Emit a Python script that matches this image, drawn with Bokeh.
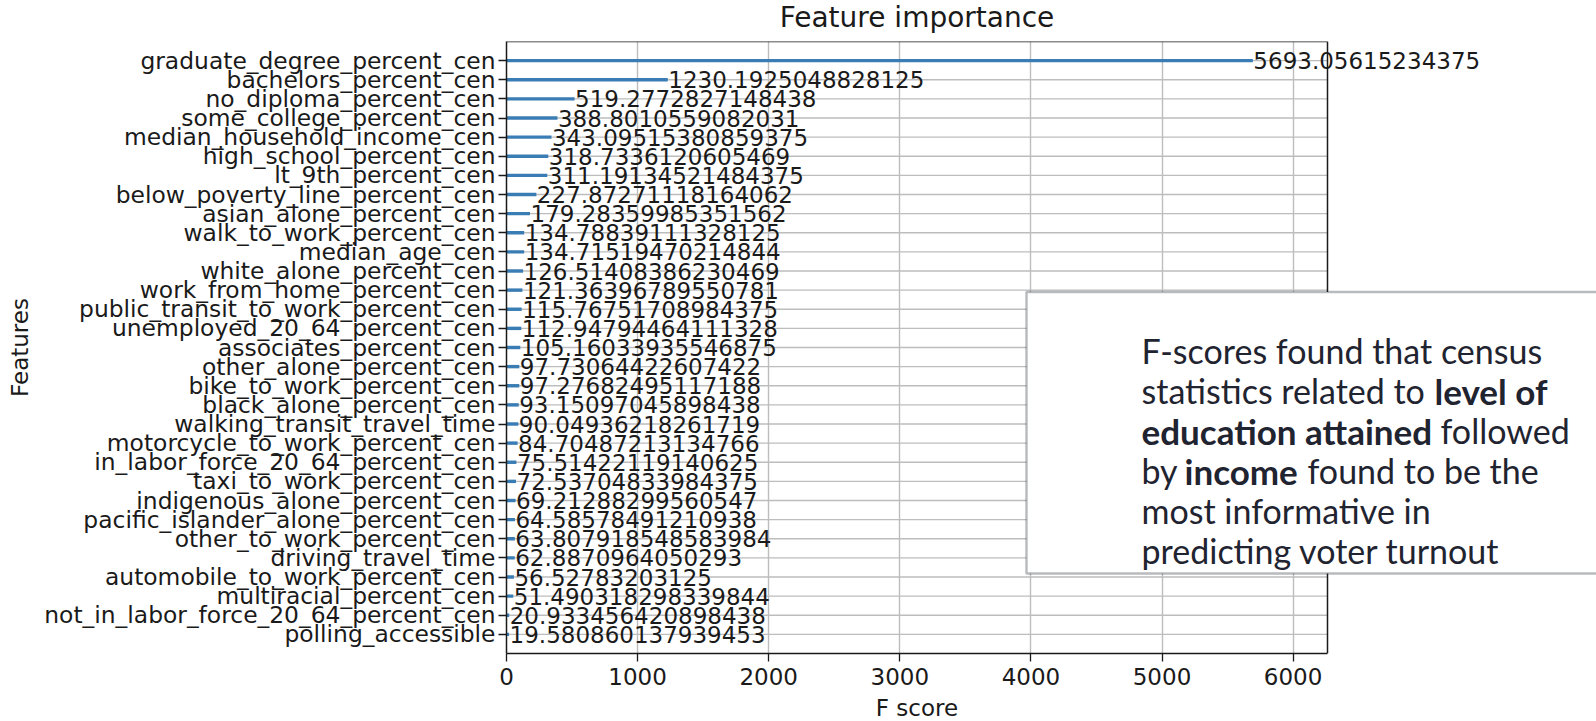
from bokeh.plotting import figure
from bokeh.layouts import column
from bokeh.models import (FixedTicker, Range1d, ColumnDataSource, LabelSet, Label,
                          BoxAnnotation)
from bokeh.core.properties import value
from bokeh.embed import file_html
from bokeh.resources import INLINE

# ---------------- data (top to bottom as in the chart) ----------------
features = [
    "graduate_degree_percent_cen", "bachelors_percent_cen", "no_diploma_percent_cen",
    "some_college_percent_cen", "median_household_income_cen", "high_school_percent_cen",
    "lt_9th_percent_cen", "below_poverty_line_percent_cen", "asian_alone_percent_cen",
    "walk_to_work_percent_cen", "median_age_cen", "white_alone_percent_cen",
    "work_from_home_percent_cen", "public_transit_to_work_percent_cen",
    "unemployed_20_64_percent_cen", "associates_percent_cen", "other_alone_percent_cen",
    "bike_to_work_percent_cen", "black_alone_percent_cen", "walking_transit_travel_time",
    "motorcycle_to_work_percent_cen", "in_labor_force_20_64_percent_cen",
    "taxi_to_work_percent_cen", "indigenous_alone_percent_cen",
    "pacific_islander_alone_percent_cen", "other_to_work_percent_cen",
    "driving_travel_time", "automobile_to_work_percent_cen", "multiracial_percent_cen",
    "not_in_labor_force_20_64_percent_cen", "polling_accessible",
]
fscores = [
    5693.05615234375, 1230.1925048828125, 519.2772827148438, 388.8010559082031,
    343.09515380859375, 318.7336120605469, 311.19134521484375, 227.87271118164062,
    179.28359985351562, 134.78839111328125, 134.71519470214844, 126.51408386230469,
    121.36396789550781, 115.76751708984375, 112.94794464111328, 105.16033935546875,
    97.73064422607422, 97.27682495117188, 93.15097045898438, 90.04936218261719,
    84.70487213134766, 75.51422119140625, 72.53704833984375, 69.21288299560547,
    64.58578491210938, 63.807918548583984, 62.8870964050293, 56.52783203125,
    51.490318298339844, 20.933456420898438, 19.580860137939453,
]
x_ticks = [0, 1000, 2000, 3000, 4000, 5000, 6000]
title_text = "Feature importance"
x_title = "F score"
y_title = "Features"

# annotation text: (line index, segment, bold?, left edge in page px)
note_segments = [
    (0, "F-scores found that census", False, 1141),
    (1, "statistics related to", False, 1141),
    (1, "level of", True, 1434),
    (2, "education attained", True, 1141),
    (2, "followed", False, 1440),
    (3, "by", False, 1141),
    (3, "income", True, 1184),
    (3, "found to be the", False, 1307),
    (4, "most informative in", False, 1141),
    (5, "predicting voter turnout", False, 1141),
]

# ---------------- layout constants (page pixels) ----------------
n = len(features)
ypos = [n - 1 - i for i in range(n)]
score_text = [repr(v) for v in fscores]
X_END = max(fscores) * 1.1

W = 1596
ML = 506            # left border (y axis)
PLOT_W = 821        # width of the visible axes box
PLOT_H = 612        # height of the visible axes box
TOP_H = 41          # strip holding the title
MB = 42             # x-axis tick labels
BOT_H = 720 - TOP_H - PLOT_H - MB   # strip holding the x title
FONT = "DejaVu Sans"
INK = "#1a1a1a"
GRID = "#bdbdbd"
NOTE_INK = "#1f2430"

X_RIGHT = X_END * (W - ML) / PLOT_W
x_range = Range1d(0, X_RIGHT)

FRAME_LEFT = ML
FRAME_TOP = TOP_H
FRAME_BOTTOM = FRAME_TOP + PLOT_H
BOT_TOP = FRAME_BOTTOM + MB

def px_x(px):
    return (px - FRAME_LEFT) / PLOT_W * X_END

def px_y(py):
    return -1 + (FRAME_BOTTOM - py) / PLOT_H * (n + 1)

def strip(height):
    f = figure(width=W, height=height, x_range=x_range, y_range=Range1d(0, height),
               x_axis_type=None, y_axis_type=None, output_backend="svg",
               toolbar_location=None, min_border_left=ML, min_border_right=0,
               min_border_top=0, min_border_bottom=0)
    f.outline_line_color = None
    f.background_fill_color = "white"
    f.border_fill_color = "white"
    return f

# ---------------- title strip ----------------
top = strip(TOP_H)
top.add_layout(Label(x=X_END / 2, y=TOP_H - 16.8, text=title_text,
                     text_align="center", text_baseline="middle", text_font=FONT,
                     text_font_size="28px", text_color=INK))

# ---------------- main plot ----------------
p = figure(width=W, height=PLOT_H + MB, x_range=x_range, y_range=Range1d(-1, n),
           output_backend="svg", toolbar_location=None,
           min_border_left=ML, min_border_right=0, min_border_top=0, min_border_bottom=MB)
p.background_fill_color = "white"
p.border_fill_color = "white"
p.outline_line_color = None

# horizontal grid lines (one per feature) limited to the axes box
p.segment(x0=0, x1=X_END, y0=ypos, y1=ypos, line_color=GRID, line_width=1.4)
p.ygrid.visible = False
p.xgrid.grid_line_color = GRID
p.xgrid.grid_line_width = 1.4

src = ColumnDataSource(dict(y=ypos, score=fscores, label=score_text))
p.hbar(y="y", right="score", left=0, height=0.18, source=src,
       fill_color="#3a7db5", line_color=None)

# top and right spines of the axes box
p.segment(x0=[0, X_END], x1=[X_END, X_END], y0=[n, -1], y1=[n, n],
          line_color=INK, line_width=1.5)

# axes
p.yaxis.ticker = FixedTicker(ticks=ypos)
p.yaxis.major_label_overrides = {y: f for y, f in zip(ypos, features)}
p.xaxis.ticker = FixedTicker(ticks=x_ticks)
p.xaxis.bounds = (0, X_END)
for ax in (p.xaxis[0], p.yaxis[0]):
    ax.axis_line_color = INK
    ax.axis_line_width = 1.5
    ax.major_tick_line_color = INK
    ax.major_tick_line_width = 1.3
    ax.major_tick_out = 8
    ax.major_tick_in = 0
    ax.minor_tick_line_color = None
    ax.major_label_text_font = FONT
    ax.major_label_text_color = INK
p.xaxis.major_label_text_font_size = "23px"
p.yaxis.major_label_text_font_size = "23.4px"
p.xaxis.major_label_standoff = 6
p.yaxis.major_label_standoff = 3
p.yaxis.axis_label = y_title
p.yaxis.axis_label_text_font = FONT
p.yaxis.axis_label_text_font_size = "23px"
p.yaxis.axis_label_text_font_style = "normal"
p.yaxis.axis_label_text_color = INK
p.yaxis.axis_label_standoff = 8

# score labels
p.add_layout(LabelSet(x="score", y="y", text="label", source=src, x_offset=0.5,
                      text_baseline="middle", text_align="left",
                      text_font=value(FONT), text_font_size="23px", text_color=INK))

# annotation box
p.add_layout(BoxAnnotation(left=px_x(1026), right=px_x(1700), top=px_y(291.5),
                           bottom=px_y(573), fill_color="white", fill_alpha=1.0,
                           line_color="#161b26", line_width=2.4, level="annotation"))
for line, seg, bold, left in note_segments:
    p.add_layout(Label(x=px_x(left), y=px_y(350 + 40 * line), text=seg,
                       text_align="left", text_baseline="alphabetic",
                       text_font="Lato", text_font_size="35px" if bold else "34px",
                       text_font_style="bold" if bold else "normal",
                       text_color=NOTE_INK))

# ---------------- x title strip ----------------
bot = strip(BOT_H)
bot.add_layout(Label(x=X_END / 2, y=BOT_H - (707 - BOT_TOP), text=x_title,
                     text_align="center", text_baseline="middle", text_font=FONT,
                     text_font_size="23px", text_color=INK))

layout = column(top, p, bot, spacing=0)
open("out.html", "w").write(file_html(layout, INLINE))
